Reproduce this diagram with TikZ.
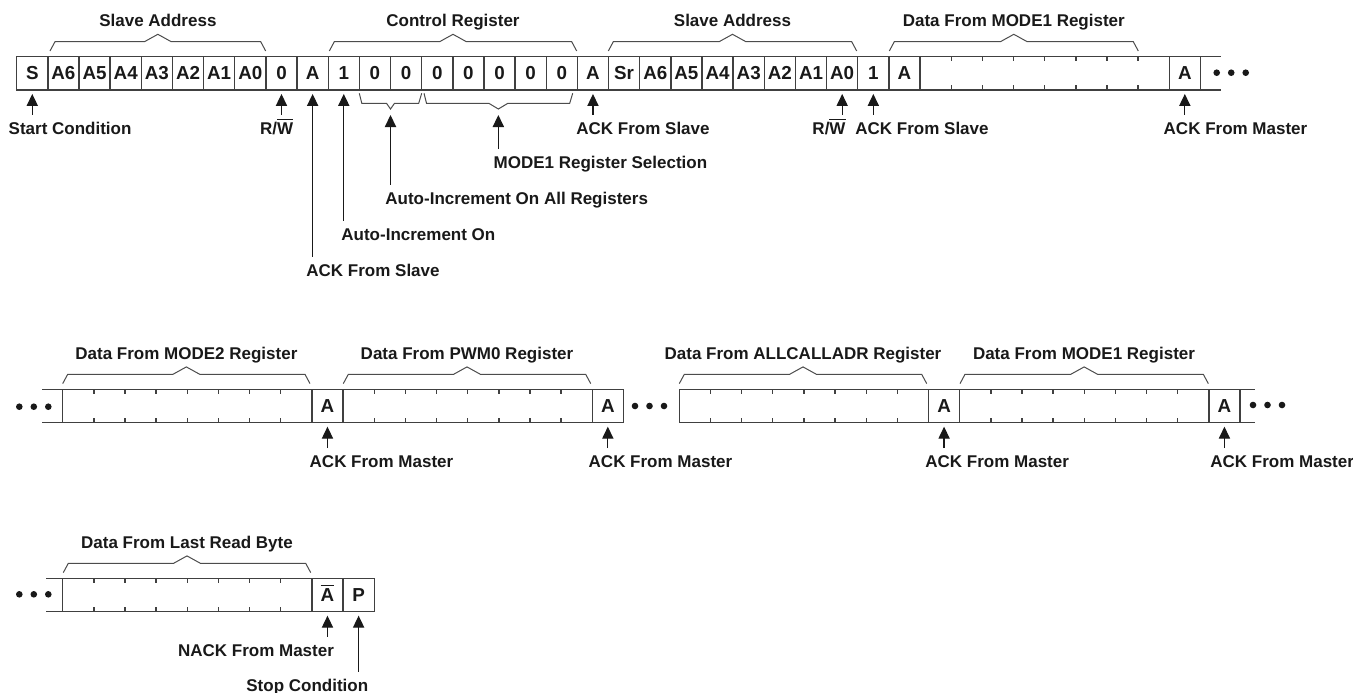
\documentclass[tikz,border=0pt]{standalone}
\usepackage{fontspec}
\setmainfont{Liberation Sans}
\usetikzlibrary{arrows.meta,positioning,calc}

% graffa sopra: sinistra, destra, bordo superiore
\newcommand{\sopra}[3]{%
  \draw[graffa] (#1,#3-5.7) -- (#1+5,#3-15) -- ({(#1+#2)/2-13.4},#3-15)
    -- ({(#1+#2)/2},#3-22.4) -- ({(#1+#2)/2+13.4},#3-15) -- (#2-5,#3-15) -- (#2,#3-5.7);}
% graffa sotto: sinistra, destra, bordo inferiore, semilarghezza, nome della punta
\newcommand{\sotto}[5]{%
  \draw[graffa] (#1,#3+3.3) -- (#1+2.5,#3+13.3) -- ({(#1+#2)/2-#4},#3+13.3)
    -- ({(#1+#2)/2},#3+19) coordinate (#5) -- ({(#1+#2)/2+#4},#3+13.3) -- (#2-3,#3+13.3) -- (#2,#3+3.3);}
% tacche dei byte di dati
\newcommand{\tacche}[1]{%
  \foreach \k in {1,...,7} {
    \draw[bordo] ($(#1.north west)+(31.15*\k,0)$) -- ++(0,4.5);
    \draw[bordo] ($(#1.south west)+(31.15*\k,0)$) -- ++(0,-4.5);}}
\newcommand{\puntini}[2]{\foreach \d in {0,1,2} \fill[black!90] ({#1+14.5*\d},#2) circle[radius=1.65pt];}

\begin{document}
\begin{tikzpicture}[x=0.5pt, y=-0.5pt,
  cella/.style={draw=black!75, line width=0.7pt, minimum width=15.575pt, minimum height=16.65pt,
    inner sep=0pt, outer sep=0pt, text height=6.6pt, text depth=0pt,
    font=\fontsize{9.4}{10}\selectfont\bfseries, text=black!90},
  dato/.style={cella, minimum width=124.6pt},
  etich/.style={inner sep=0pt, text height=6.1pt, text depth=0pt,
    font=\fontsize{8.5}{10}\selectfont\bfseries, text=black!90},
  freccia/.style={draw=black!90, line width=0.6pt, -{Triangle[length=6pt,width=5.6pt]},
    shorten <=3.5pt, shorten >=2pt},
  graffa/.style={draw=black!70, line width=0.5pt},
  bordo/.style={draw=black!75, line width=0.7pt}]
  \useasboundingbox (0,0) rectangle (1353,692);

  % prima riga
  \foreach \t [count=\i from 0] in {S,A6,A5,A4,A3,A2,A1,A0,0,A,1,0,0,0,0,0,0,0,A,Sr,A6,A5,A4,A3,A2,A1,A0,1,A}
    \node[cella] (r1c\i) at ({16.7+31.15*(\i+0.5)},73.3) {\t};
  \node[dato, right=0pt of r1c28] (r1d) {};
  \node[cella, right=0pt of r1d] (r1am) {A};
  \tacche{r1d}
  \draw[bordo] (r1am.north east) -- ++(21,0);
  \draw[bordo] (r1am.south east) -- ++(21,0);
  \puntini{1216.7}{72.7}

  \sopra{50}{265.7}{56.7}
  \sopra{329.3}{576.7}{56.7}
  \sopra{608.3}{856.7}{56.7}
  \sopra{889.3}{1138.3}{56.7}
  \node[etich] (tsa1) at (157.9,20) {Slave Address};
  \node[etich] (tcr) at (453,20) {Control Register};
  \node[etich] (tsa2) at (732.5,20) {Slave Address};
  \node[etich] (tm1a) at (1013.8,20) {Data From MODE1 Register};

  \sotto{359.3}{421.7}{90}{4}{dipA}
  \sotto{424}{572.7}{90}{9.5}{dipB}

  \node[etich, anchor=west] (lstart) at (8.3,128) {Start Condition};
  \node[etich] (lrw1) at (276.7,128) {R/$\overline{\hbox{W}}$};
  \node[etich, anchor=west] (lack1) at (306,270) {ACK From Slave};
  \node[etich, anchor=west] (lauto) at (341,234) {Auto-Increment On};
  \node[etich, anchor=west] (lall) at (385,198.3) {Auto-Increment On All Registers};
  \node[etich, anchor=west] (lsel) at (493.3,162.7) {MODE1 Register Selection};
  \node[etich, anchor=west] (lack2) at (576,128) {ACK From Slave};
  \node[etich] (lrw2) at (829,128) {R/$\overline{\hbox{W}}$};
  \node[etich, anchor=west] (lack3) at (855,128) {ACK From Slave};
  \node[etich, anchor=west] (lmas1) at (1163.3,128) {ACK From Master};

  \draw[freccia] (r1c0 |- lstart.north) -- (r1c0.south);
  \draw[freccia] (r1c8 |- lrw1.north) -- (r1c8.south);
  \draw[freccia] (r1c9 |- lack1.north) -- (r1c9.south);
  \draw[freccia] (r1c10 |- lauto.north) -- (r1c10.south);
  \draw[freccia, shorten >=3pt] (dipA |- lall.north) -- (dipA);
  \draw[freccia, shorten >=3pt] (dipB |- lsel.north) -- (dipB);
  \draw[freccia] (r1c18 |- lack2.north) -- (r1c18.south);
  \draw[freccia] (r1c26 |- lrw2.north) -- (r1c26.south);
  \draw[freccia] (r1c27 |- lack3.north) -- (r1c27.south);
  \draw[freccia] (r1am |- lmas1.north) -- (r1am.south);

  % seconda riga
  \node[dato, anchor=west] (r2d1) at (62.7,406) {};
  \node[cella, right=0pt of r2d1] (r2a1) {A};
  \node[dato, right=0pt of r2a1] (r2d2) {};
  \node[cella, right=0pt of r2d2] (r2a2) {A};
  \node[dato, anchor=west] (r2d3) at (679.3,406) {};
  \node[cella, right=0pt of r2d3] (r2a3) {A};
  \node[dato, right=0pt of r2a3] (r2d4) {};
  \node[cella, right=0pt of r2d4] (r2a4) {A};
  \foreach \b in {r2d1,r2d2,r2d3,r2d4} {\tacche{\b}}
  \draw[bordo] (r2d1.north west) -- ++(-21,0);
  \draw[bordo] (r2d1.south west) -- ++(-21,0);
  \draw[bordo] (r2a4.north east) -- ++(15,0);
  \draw[bordo] (r2a4.south east) -- ++(15,0);
  \puntini{19.3}{406.7}
  \puntini{635}{406}
  \puntini{1253}{405}

  \sopra{62.7}{310}{389.3}
  \sopra{343.3}{590.7}{389.3}
  \sopra{679.3}{926.7}{389.3}
  \sopra{960}{1208.3}{389.3}
  \node[etich] (tm2) at (186.4,353.3) {Data From MODE2 Register};
  \node[etich] (tpwm) at (467,353.3) {Data From PWM0 Register};
  \node[etich] (tall) at (803,353.3) {Data From ALLCALLADR Register};
  \node[etich] (tm1b) at (1084,353.3) {Data From MODE1 Register};

  \node[etich, anchor=west] (lmas2) at (309.3,461.7) {ACK From Master};
  \node[etich, anchor=west] (lmas3) at (588.3,461.7) {ACK From Master};
  \node[etich, anchor=west] (lmas4) at (925,461.7) {ACK From Master};
  \node[etich, anchor=west] (lmas5) at (1210,461.7) {ACK From Master};
  \draw[freccia] (r2a1 |- lmas2.north) -- (r2a1.south);
  \draw[freccia] (r2a2 |- lmas3.north) -- (r2a2.south);
  \draw[freccia] (r2a3 |- lmas4.north) -- (r2a3.south);
  \draw[freccia] (r2a4 |- lmas5.north) -- (r2a4.south);

  % terza riga
  \node[dato, anchor=west] (r3d1) at (62.7,595) {};
  \node[cella, right=0pt of r3d1] (r3na) {$\overline{\hbox{A}}$};
  \node[cella, right=0pt of r3na] (r3p) {P};
  \tacche{r3d1}
  \draw[bordo] (r3d1.north west) -- ++(-16.7,0);
  \draw[bordo] (r3d1.south west) -- ++(-16.7,0);
  \puntini{19.3}{594.3}

  \sopra{63.3}{310.7}{578.3}
  \node[etich] (tlast) at (187,542.7) {Data From Last Read Byte};

  \node[etich, anchor=west] (lnack) at (177.7,650) {NACK From Master};
  \node[etich, anchor=west] (lstop) at (246,685) {Stop Condition};
  \draw[freccia] (r3na |- lnack.north) -- (r3na.south);
  \draw[freccia] (r3p |- lstop.north) -- (r3p.south);
\end{tikzpicture}
\end{document}
